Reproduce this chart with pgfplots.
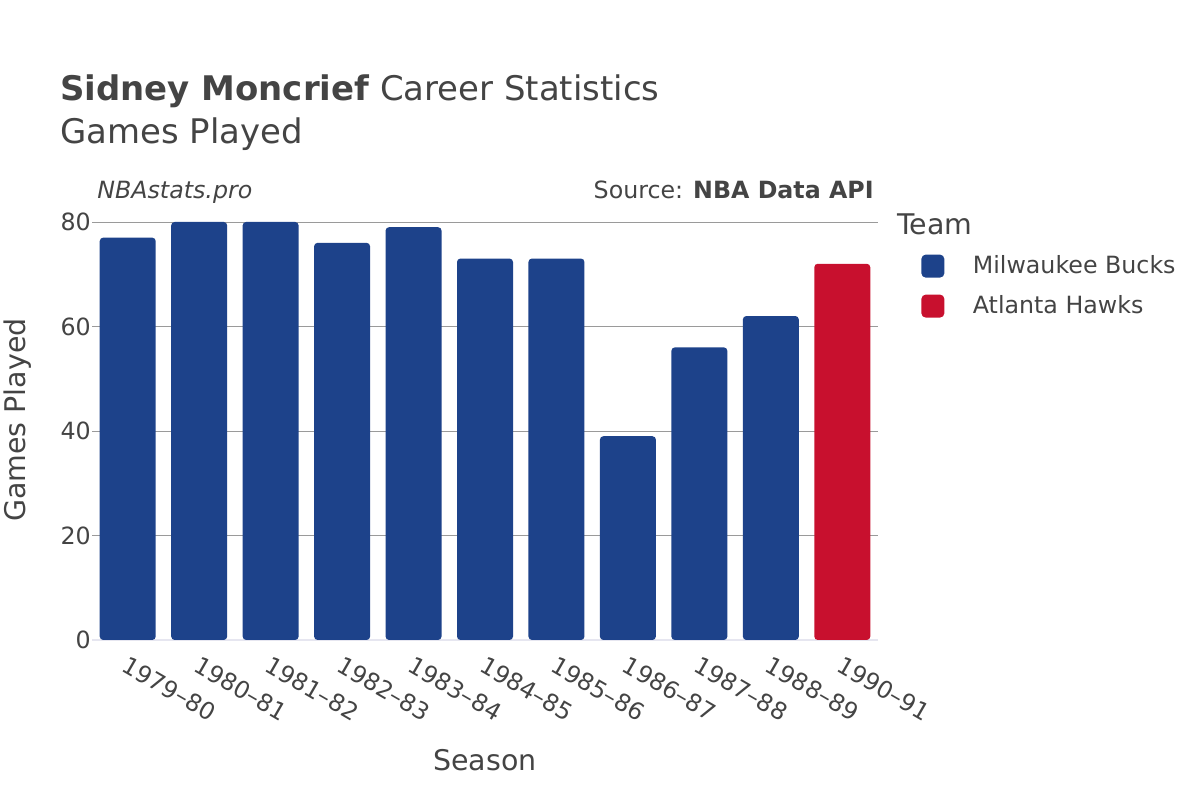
\documentclass[border=0pt]{standalone}
\usepackage{fontspec}
\setmainfont{DejaVu Sans}
\usepackage{pgfplots}
\pgfplotsset{compat=1.18}
\definecolor{bucks}{HTML}{1D428A}
\definecolor{hawks}{HTML}{C8102E}
\definecolor{txt}{HTML}{444444}
\definecolor{gridc}{HTML}{9A9A9A}
\definecolor{zeroc}{HTML}{E6E6F0}
\begin{document}
\begin{tikzpicture}[x=1cm,y=1cm]
\path (0,0) rectangle (24,16);
\begin{axis}[
  at={(1.84cm,3.2cm)}, anchor=south west,
  scale only axis, width=15.72cm, height=8.8cm,
  ybar, bar width=1.12cm,
  legend image code/.code={\fill[#1,rounded corners=2.5pt] (0cm,-0.23cm) rectangle (0.46cm,0.23cm);},
  xmin=-0.5, xmax=10.5, ymin=0, ymax=84.2,
  xtick={0,...,10},
  xticklabels={1979–80,1980–81,1981–82,1982–83,1983–84,1984–85,1985–86,1986–87,1987–88,1988–89,1990–91},
  xticklabel style={rotate=-30,anchor=north west,font=\fontsize{13.5}{15}\selectfont,text=txt,inner sep=1pt,xshift=3pt,yshift=-4pt},
  ytick={20,40,60,80},
  extra y ticks={0},
  extra y tick style={grid style={color=zeroc,line width=1pt}},
  yticklabel style={font=\fontsize{13.5}{15}\selectfont,text=txt,xshift=5pt},
  ymajorgrids, grid style={color=gridc,line width=0.5pt},
  axis lines=left, axis line style={draw=none}, tick style={draw=none},
  /pgf/number format/assume math mode=true,
  legend style={draw=none,fill=none,font=\fontsize{13.5}{15}\selectfont,text=txt,
    at={(1.048,0.89)},anchor=north west,row sep=7pt,
    /tikz/column sep=0.5cm},
  legend cell align=left,
  clip=false,
]
\addplot[fill=bucks,draw=none,bar shift=0pt,rounded corners=2pt] coordinates {
  (0,77) (1,80) (2,80) (3,76) (4,79) (5,73) (6,73) (7,39) (8,56) (9,62)};
\addplot[fill=hawks,draw=none,bar shift=0pt,rounded corners=2pt] coordinates {(10,72)};
\legend{Milwaukee Bucks,Atlanta Hawks}
\end{axis}
\node[anchor=base west,inner sep=0,text=txt,font=\fontsize{19.3}{22}\selectfont] at (1.2,13.98) {\textbf{Sidney Moncrief} Career Statistics};
\node[anchor=base west,inner sep=0,text=txt,font=\fontsize{19.3}{22}\selectfont] at (1.2,13.12) {Games Played};
\node[anchor=base west,inner sep=0,text=txt,font=\fontsize{13.5}{15}\selectfont\itshape] at (1.94,12.02) {NBAstats.pro};
\node[anchor=base east,inner sep=0,text=txt,font=\fontsize{13.5}{15}\selectfont] at (17.48,12.02) {Source: \textbf{NBA Data API}};
\node[anchor=base west,inner sep=0,text=txt,font=\fontsize{16.2}{19}\selectfont] at (17.94,11.3) {Team};
\node[inner sep=0,text=txt,font=\fontsize{16.2}{19}\selectfont] at (9.7,0.8) {Season};
\node[inner sep=0,text=txt,font=\fontsize{16.2}{19}\selectfont,rotate=90] at (0.36,7.6) {Games Played};
\end{tikzpicture}
\end{document}
